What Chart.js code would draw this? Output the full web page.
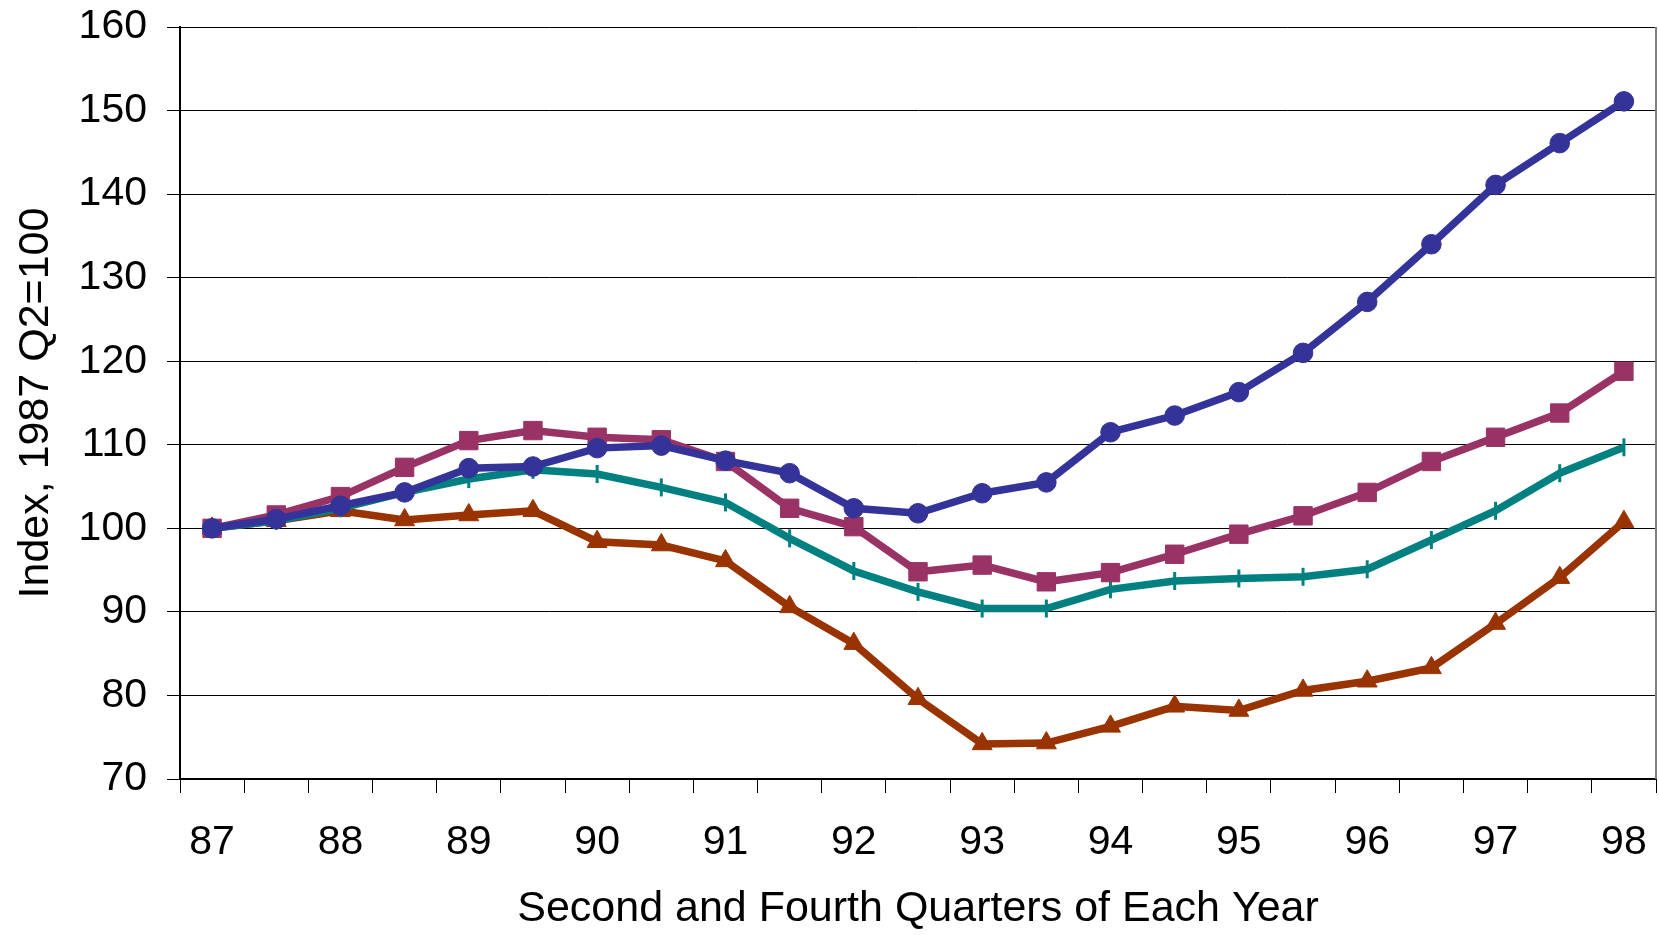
<!DOCTYPE html>
<html>
<head>
<meta charset="utf-8">
<script src="https://cdn.jsdelivr.net/npm/chart.js@4/dist/chart.umd.min.js"></script>
<style>
  html, body { margin: 0; padding: 0; background: #fff; }
  #wrap { width: 1659px; height: 935px; }
</style>
</head>
<body>
<div id="wrap"><canvas id="c" width="1659" height="935"></canvas></div>
<script>
// Half-year observations: second and fourth quarter of each year, 1987 Q2 to 1998 Q2
const quarters = [
  '87 Q2','87 Q4','88 Q2','88 Q4','89 Q2','89 Q4','90 Q2','90 Q4',
  '91 Q2','91 Q4','92 Q2','92 Q4','93 Q2','93 Q4','94 Q2','94 Q4',
  '95 Q2','95 Q4','96 Q2','96 Q4','97 Q2','97 Q4','98 Q2'
];
const yearLabels = ['87','88','89','90','91','92','93','94','95','96','97','98'];

const seriesCircle = [100, 101.1, 102.7, 104.3, 107.2, 107.4, 109.6, 109.9, 108.1, 106.6, 102.4, 101.8,
  104.2, 105.5, 111.5, 113.5, 116.3, 121.0, 127.1, 134.0, 141.1, 146.1, 151.1];
const seriesSquare = [100, 101.6, 103.8, 107.3, 110.5, 111.7, 110.9, 110.6, 108.0, 102.4, 100.2, 94.8,
  95.6, 93.6, 94.7, 96.9, 99.3, 101.5, 104.3, 108.0, 110.9, 113.8, 118.8];
const seriesTick = [100, 100.9, 102.4, 104.3, 105.9, 107.0, 106.5, 104.9, 103.1, 98.8, 94.9, 92.4,
  90.4, 90.4, 92.7, 93.7, 94.0, 94.2, 95.1, 98.6, 102.1, 106.6, 109.7];
const seriesTriangle = [100, 100.9, 102.1, 101.0, 101.6, 102.1, 98.4, 98.0, 96.1, 90.6, 86.2, 79.6,
  74.2, 74.3, 76.3, 78.7, 78.2, 80.6, 81.7, 83.3, 88.6, 94.1, 100.8];

const yMin = 70, yMax = 160, yStep = 10;

const FONT = "'Liberation Sans', Arial, Helvetica, sans-serif";

// Thin grey frame line on the right edge of the plot area
const rightFrame = {
  id: 'rightFrame',
  afterDraw(chart) {
    const a = chart.chartArea, ctx = chart.ctx;
    ctx.save();
    ctx.strokeStyle = '#808080';
    ctx.lineWidth = 2;
    ctx.beginPath();
    ctx.moveTo(a.right, a.top);
    ctx.lineTo(a.right, a.bottom);
    ctx.stroke();
    ctx.restore();
  }
};

function lineSet(data, color, style, radius, extra) {
  return Object.assign({
    data: data,
    borderColor: color,
    backgroundColor: color,
    borderWidth: 7.5,
    pointStyle: style,
    pointRadius: radius,
    pointHoverRadius: radius,
    pointBackgroundColor: color,
    pointBorderColor: color,
    pointBorderWidth: 1,
    tension: 0,
    fill: false,
    clip: false
  }, extra || {});
}

new Chart(document.getElementById('c'), {
  type: 'line',
  data: {
    labels: quarters,
    datasets: [
      lineSet(seriesCircle, '#333399', 'circle', 9.8),
      lineSet(seriesSquare, '#993366', 'rect', 13),
      lineSet(seriesTick, '#008080', 'line', 9, { pointRotation: 90, pointBorderWidth: 3 }),
      lineSet(seriesTriangle, '#993300', 'triangle', 11.5)
    ]
  },
  options: {
    responsive: false,
    animation: false,
    events: [],
    layout: { autoPadding: false, padding: { top: 27, right: 3, bottom: 0, left: 0 } },
    plugins: {
      legend: { display: false },
      tooltip: { enabled: false }
    },
    scales: {
      x: {
        type: 'category',
        offset: true,
        grid: {
          offset: true,
          drawOnChartArea: false,
          drawTicks: true,
          tickLength: 14,
          color: '#000',
          lineWidth: 1
        },
        border: { display: true, color: '#000', width: 2 },
        ticks: {
          autoSkip: false,
          maxRotation: 0,
          minRotation: 0,
          padding: 25,
          color: '#000',
          font: { family: FONT, size: 41 },
          callback: (v, i) => (i % 2 === 0 ? yearLabels[i / 2] : '')
        },
        title: {
          display: true,
          text: 'Second and Fourth Quarters of Each Year',
          color: '#000',
          font: { family: FONT, size: 43 },
          padding: { top: 0, bottom: 0 }
        },
        afterFit(scale) {
          scale.height = 156;
          scale.paddingLeft = 0;
          scale.paddingRight = 0;
        }
      },
      y: {
        min: yMin,
        max: yMax,
        grid: {
          color: '#000',
          lineWidth: 1,
          drawTicks: true,
          tickLength: 13
        },
        border: { display: true, color: '#000', width: 2 },
        ticks: {
          stepSize: yStep,
          padding: 20,
          color: '#000',
          font: { family: FONT, size: 41 }
        },
        title: {
          display: true,
          text: 'Index, 1987 Q2=100',
          color: '#000',
          font: { family: FONT, size: 43 },
          padding: { top: 10, bottom: 0 }
        },
        afterFit(scale) {
          scale.width = 180;
          scale.paddingTop = 0;
          scale.paddingBottom = 0;
        }
      }
    }
  },
  plugins: [rightFrame]
});
</script>
</body>
</html>
